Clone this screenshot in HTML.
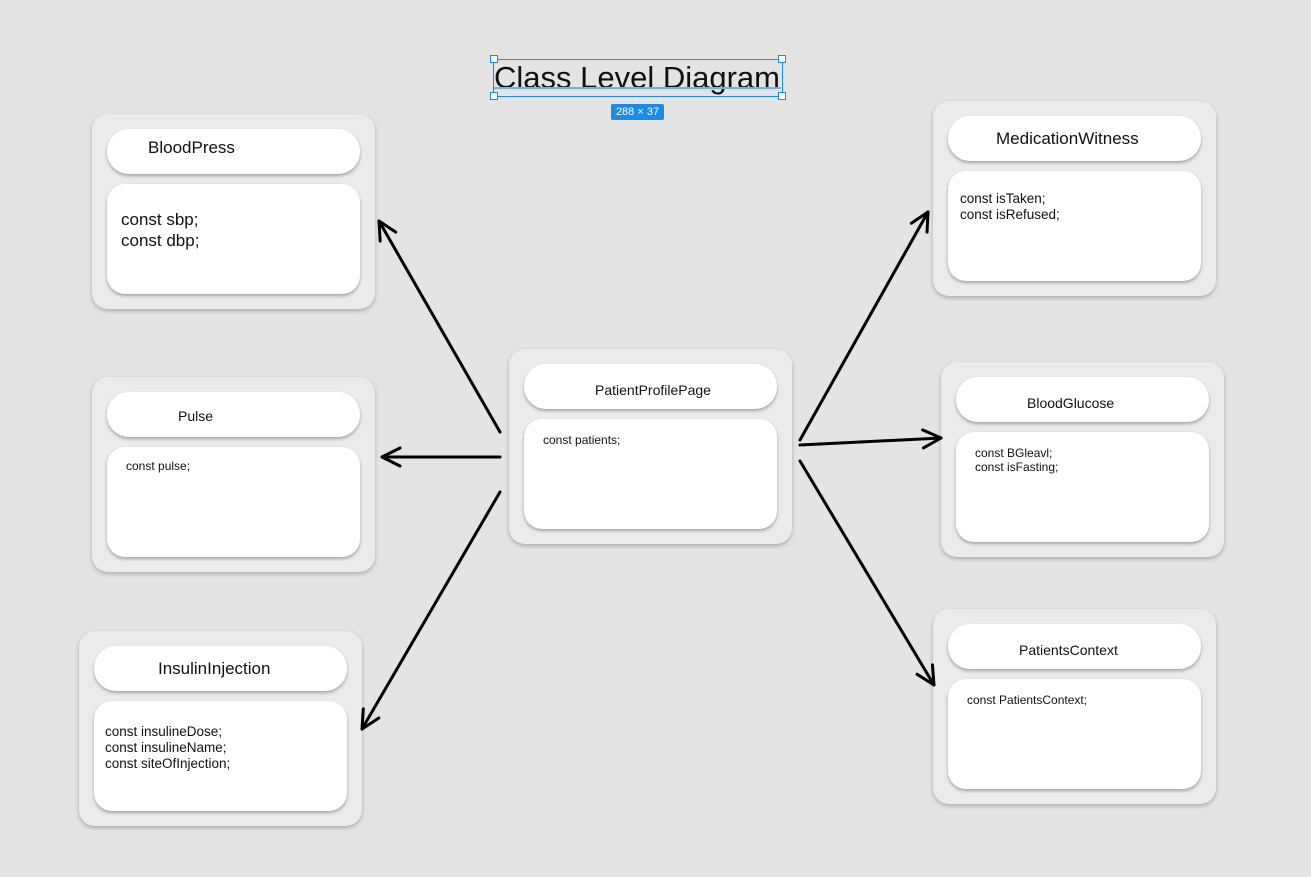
<!DOCTYPE html>
<html><head><style>
body{margin:0;width:1311px;height:877px;background:#e4e4e4;position:relative;overflow:hidden;font-family:"Liberation Sans","DejaVu Sans",sans-serif;color:#111}
.o{position:absolute;width:283px;height:195px;background:#ebebeb;border-radius:16px;box-shadow:0 2px 4px rgba(0,0,0,.25)}
.h,.b{position:absolute;left:15px;width:253px;background:#fff;box-shadow:0 2px 3px rgba(0,0,0,.3)}
.h{top:15px;height:45px;border-radius:22px}
.b{top:70px;height:110px;border-radius:18px}
.t{position:absolute;white-space:nowrap}
</style></head><body>
<svg width="1311" height="877" style="position:absolute;left:0;top:0;z-index:2" fill="none" stroke="#000" stroke-width="3" stroke-linecap="round" stroke-linejoin="round">
<defs><marker id="a" markerWidth="8" markerHeight="8" refX="7" refY="4" orient="auto" markerUnits="strokeWidth"><path d="M1,1 L7,4 L1,7" fill="none" stroke="#000" stroke-width="1"/></marker></defs>
<line x1="500" y1="432" x2="379" y2="221" marker-end="url(#a)"/>
<line x1="500" y1="457" x2="382" y2="457" marker-end="url(#a)"/>
<line x1="500" y1="492" x2="362" y2="729" marker-end="url(#a)"/>
<line x1="800" y1="440" x2="928" y2="212" marker-end="url(#a)"/>
<line x1="800" y1="445" x2="941" y2="438" marker-end="url(#a)"/>
<line x1="800" y1="461" x2="934" y2="685" marker-end="url(#a)"/>
</svg>

<div class="t" style="left:494px;top:57px;font-size:31px;line-height:42px">Class Level Diagram</div>
<div style="position:absolute;left:493px;top:59px;width:288px;height:36px;border:1px solid #1a8be8"></div>
<div style="position:absolute;left:494px;top:87px;width:287px;height:2px;background:#6fb2ea"></div>
<div style="position:absolute;left:490px;top:55px;width:6px;height:6px;background:#fff;border:1px solid #1a8be8"></div>
<div style="position:absolute;left:778px;top:55px;width:6px;height:6px;background:#fff;border:1px solid #1a8be8"></div>
<div style="position:absolute;left:490px;top:92px;width:6px;height:6px;background:#fff;border:1px solid #1a8be8"></div>
<div style="position:absolute;left:778px;top:92px;width:6px;height:6px;background:#fff;border:1px solid #1a8be8"></div>
<div style="position:absolute;left:611px;top:104px;width:53px;height:16px;background:#1a8be8;border-radius:2px;color:#fff;font-size:11px;line-height:16px;text-align:center">288 × 37</div>

<div class="o" style="left:92px;top:114px"><div class="h"></div><div class="b"></div>
<div class="t" style="left:56px;top:24px;font-size:17px">BloodPress</div>
<div class="t" style="left:29px;top:95px;font-size:17px;line-height:21px">const sbp;<br>const dbp;</div></div>

<div class="o" style="left:92px;top:377px"><div class="h"></div><div class="b"></div>
<div class="t" style="left:86px;top:31px;font-size:14px">Pulse</div>
<div class="t" style="left:34px;top:82px;font-size:12px">const pulse;</div></div>

<div class="o" style="left:79px;top:631px"><div class="h"></div><div class="b"></div>
<div class="t" style="left:79px;top:28px;font-size:17px">InsulinInjection</div>
<div class="t" style="left:26px;top:93px;font-size:13.5px;line-height:16px">const insulineDose;<br>const insulineName;<br>const siteOfInjection;</div></div>

<div class="o" style="left:509px;top:349px"><div class="h"></div><div class="b"></div>
<div class="t" style="left:86px;top:33px;font-size:14px">PatientProfilePage</div>
<div class="t" style="left:34px;top:84px;font-size:12px">const patients;</div></div>

<div class="o" style="left:933px;top:101px"><div class="h"></div><div class="b"></div>
<div class="t" style="left:63px;top:28px;font-size:17px">MedicationWitness</div>
<div class="t" style="left:27px;top:90px;font-size:13.5px;line-height:16px">const isTaken;<br>const isRefused;</div></div>

<div class="o" style="left:941px;top:362px"><div class="h"></div><div class="b"></div>
<div class="t" style="left:86px;top:33px;font-size:14px">BloodGlucose</div>
<div class="t" style="left:34px;top:84px;font-size:12px;line-height:14px">const BGleavl;<br>const isFasting;</div></div>

<div class="o" style="left:933px;top:609px"><div class="h"></div><div class="b"></div>
<div class="t" style="left:86px;top:33px;font-size:14px">PatientsContext</div>
<div class="t" style="left:34px;top:84px;font-size:12px">const PatientsContext;</div></div>
</body></html>
